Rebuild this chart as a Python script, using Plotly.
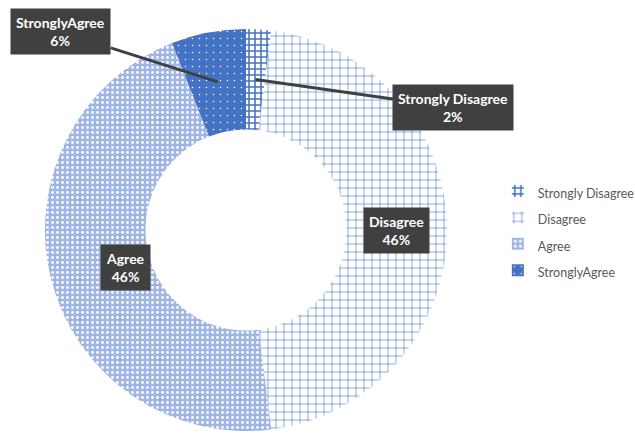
import math
import plotly.graph_objects as go

# ---- data ----
categories = ["Strongly Disagree", "Disagree", "Agree", "StronglyAgree"]
values = [2, 46, 46, 6]

# ---- style ----
W, H = 635, 437
CX, CY, R, HOLE = 246, 230, 201, 0.5
BLUE = "#4472C4"
slice_colors = [BLUE, "#ffffff", "#a3b9e6", BLUE]
pat_shape = ["+", "+", ".", "."]
pat_fg = [BLUE, "#4a79cb", "#ffffff", "#ffffff"]
pat_bg = ["#ffffff", "#ffffff", "#9fb6e5", BLUE]
pat_size = [6, 8, 5, 7]
pat_sol = [0.45, 0.15, 0.25, 0.04]
# callout offsets (px) for small slices; others are labelled inside the slice
callout = {"Strongly Disagree": (198, 28), "StronglyAgree": (-157, -50)}

LEG_SPAN = "<span style='font-size:12.5px'>{}</span>"

fig = go.Figure(
    go.Pie(
        labels=[LEG_SPAN.format(c) for c in categories],
        values=values,
        sort=False,
        direction="clockwise",
        rotation=0,
        hole=HOLE,
        textinfo="none",
        hoverinfo="label+percent",
        domain=dict(x=[(CX - R) / W, (CX + R) / W],
                    y=[1 - (CY + R) / H, 1 - (CY - R) / H]),
        marker=dict(
            colors=slice_colors,
            line=dict(width=0),
            pattern=dict(shape=pat_shape, fgcolor=pat_fg, bgcolor=pat_bg,
                         size=pat_size, solidity=pat_sol, fillmode="replace"),
        ),
    )
)

total = sum(values)
cum = 0
annotations = []
r_mid = R * (1 + HOLE) / 2
for cat, v in zip(categories, values):
    mid = (cum + v / 2) / total * 360.0
    cum += v
    th = math.radians(mid)
    px = CX + r_mid * math.sin(th)
    py = CY - r_mid * math.cos(th)
    pct = round(v / total * 100)
    txt = f"<b>{cat}</b><br><b>{pct}%</b>"
    ann = dict(
        x=px / W, y=1 - py / H, xref="paper", yref="paper",
        text=txt, font=dict(family="Lato", size=14, color="#ffffff"),
        bgcolor="#404040", borderpad=5, align="center",
    )
    if cat in callout:
        ax, ay = callout[cat]
        ann.update(showarrow=True, ax=ax, ay=ay, axref="pixel", ayref="pixel",
                   arrowhead=0, arrowwidth=3, arrowcolor="#404040", standoff=0)
    else:
        ann.update(showarrow=False)
    annotations.append(ann)

fig.update_layout(
    width=W, height=H,
    margin=dict(l=0, r=0, t=0, b=0, autoexpand=False),
    paper_bgcolor="#ffffff",
    plot_bgcolor="#ffffff",
    annotations=annotations,
    showlegend=True,
    legend=dict(
        x=0.784, y=0.472, xanchor="left", yanchor="middle",
        font=dict(family="Lato", size=18, color="#595959"),
        bgcolor="rgba(0,0,0,0)", itemclick=False,
    ),
)

fig.write_html("out.html", config={"displayModeBar": False},
               post_script="document.body.style.margin='0';")
